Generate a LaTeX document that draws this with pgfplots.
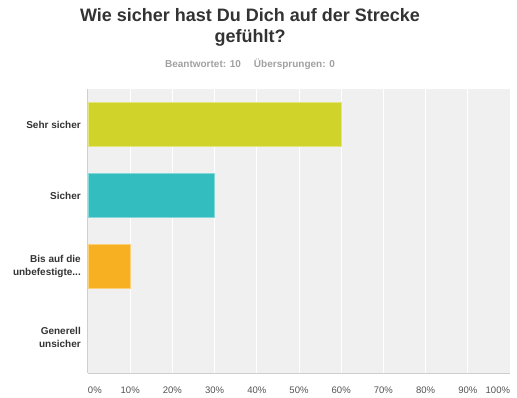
\documentclass[border=0pt]{standalone}
\usepackage{pgfplots}
\pgfplotsset{compat=1.18}
\usepackage{fontspec}
\setmainfont{Liberation Sans}
\definecolor{cA}{HTML}{D0D42A}
\definecolor{cB}{HTML}{33BDBE}
\definecolor{cC}{HTML}{F7B022}
\definecolor{bg}{HTML}{F0F0F0}
\definecolor{txt}{HTML}{333333}
\definecolor{sub}{HTML}{A0A0A0}
\definecolor{axl}{HTML}{CFCFCF}
\begin{document}
\begin{tikzpicture}[x=1pt,y=1pt]
\useasboundingbox (0,0) rectangle (517,397);
\node[anchor=base, inner sep=0pt, text=txt, font=\fontsize{18}{21.5}\selectfont\bfseries] at (250,375.3) {Wie sicher hast Du Dich auf der Strecke};
\node[anchor=base, inner sep=0pt, text=txt, font=\fontsize{18}{21.5}\selectfont\bfseries] at (250,354) {gefühlt?};
\node[anchor=base, inner sep=0pt, text=sub, font=\fontsize{10}{12}\selectfont\bfseries] at (250,329) {Beantwortet: 10\hspace{13pt}Übersprungen: 0};
\begin{axis}[
  at={(88pt,24pt)}, anchor=south west,
  scale only axis, width=422pt, height=284pt,
  xmin=0, xmax=100, ymin=-0.5, ymax=3.5, y dir=reverse,
  xbar, bar width=44pt,
  axis background/.style={fill=bg},
  axis lines*=left,
  axis line style={draw=axl, line width=1pt, -},
  xtick={0,10,20,30,40,50,60,70,80,90,100},
  xticklabels={\makebox[0pt][l]{0\%},10\%,20\%,30\%,40\%,50\%,60\%,70\%,80\%,90\%,\makebox[0pt][r]{100\%}},
  ytick={0,1,2,3},
  yticklabels={Sehr sicher, Sicher, {Bis auf die\\unbefestigte{.}{.}{.}}, {Generell\\unsicher}},
  major tick length=0pt,
  xmajorgrids, major grid style={draw=white, line width=1pt},
  xticklabel style={anchor=north, inner sep=0pt, yshift=-14pt, text=txt!85, font=\fontsize{9.5}{11}\selectfont},
  yticklabel style={align=right, anchor=east, inner sep=0pt, xshift=-7pt, text=txt, font=\fontsize{10}{13}\selectfont\bfseries},
]
\addplot[fill=cA, draw=cA!60!white, line width=0.8pt, bar shift=0pt] coordinates {(60,0)};
\addplot[fill=cB, draw=cB!60!white, line width=0.8pt, bar shift=0pt] coordinates {(30,1)};
\addplot[fill=cC, draw=cC!60!white, line width=0.8pt, bar shift=0pt] coordinates {(10,2)};
\addplot[fill=none, draw=none, bar shift=0pt] coordinates {(0,3)};
\end{axis}
\end{tikzpicture}
\end{document}
